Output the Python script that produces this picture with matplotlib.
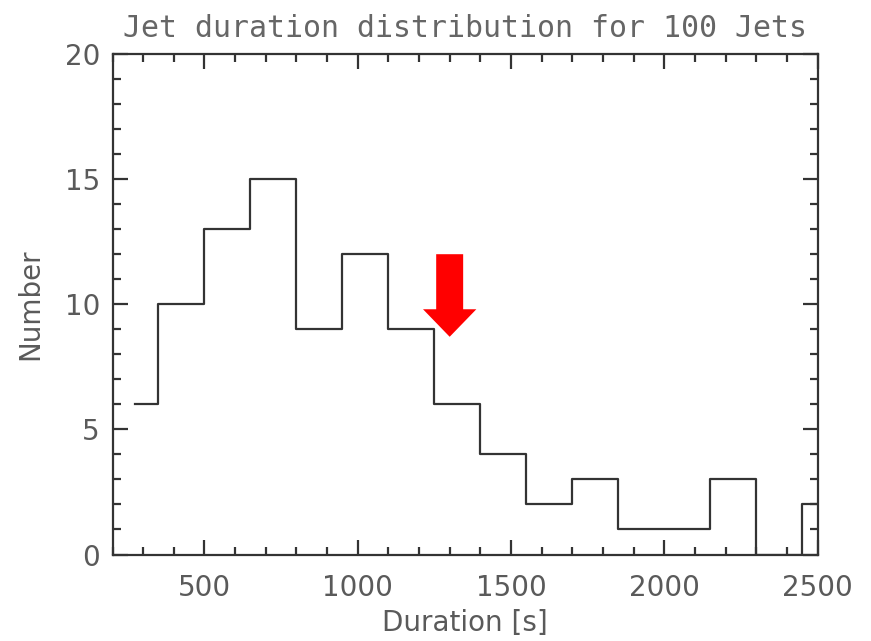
import numpy as np
import matplotlib
matplotlib.use('Agg')
import matplotlib.pyplot as plt
from matplotlib.ticker import MultipleLocator

# Histogram of jet durations (bin centres in seconds, 150 s bins)
centers = [275, 425, 575, 725, 875, 1025, 1175, 1325,
           1475, 1625, 1775, 1925, 2075, 2225, 2375, 2525]
counts = [6, 10, 13, 15, 9, 12, 9, 6, 4, 2, 3, 1, 1, 3, 0, 2]

# Marker for the mean duration
arrow_x = 1300
arrow_top = 12.0
arrow_tip = 8.7

text_col = '#5a5a5a'
line_col = '#333333'

fig = plt.figure(figsize=(8.71, 6.41), dpi=100)
ax = fig.add_axes([112.5 / 871, 1 - 554.5 / 641,
                   (817.5 - 112.5) / 871, (554.5 - 54) / 641])

ax.step(centers, counts, where='mid', color=line_col, lw=1.6)

ax.arrow(arrow_x, arrow_top, 0, arrow_tip - arrow_top, width=88,
         head_width=174, head_length=1.1, length_includes_head=True,
         color='red', lw=0)

ax.set_xlim(200, 2500)
ax.set_ylim(0, 20)
ax.xaxis.set_major_locator(MultipleLocator(500))
ax.xaxis.set_minor_locator(MultipleLocator(100))
ax.yaxis.set_major_locator(MultipleLocator(5))
ax.yaxis.set_minor_locator(MultipleLocator(1))

for s in ax.spines.values():
    s.set_color(line_col)
    s.set_linewidth(1.6)
ax.tick_params(which='both', direction='in', top=True, right=True,
               color=line_col, width=1.6, labelcolor=text_col,
               labelsize=20)
ax.tick_params(which='major', length=11)
ax.tick_params(which='minor', length=6)
ax.tick_params(axis='x', which='major', pad=14)
ax.tick_params(axis='y', which='major', pad=9)

# wide monospaced title, labels in the regular sans face
ax.set_title('Jet duration distribution for 100 Jets', fontsize=21.5,
             family='DejaVu Sans Mono', color='#666666', pad=12)
ax.set_xlabel('Duration [s]', fontsize=20, color=text_col, labelpad=5)
ax.set_ylabel('Number', fontsize=20, color=text_col, labelpad=15)

fig.savefig('out.png', dpi=100, facecolor='white')
